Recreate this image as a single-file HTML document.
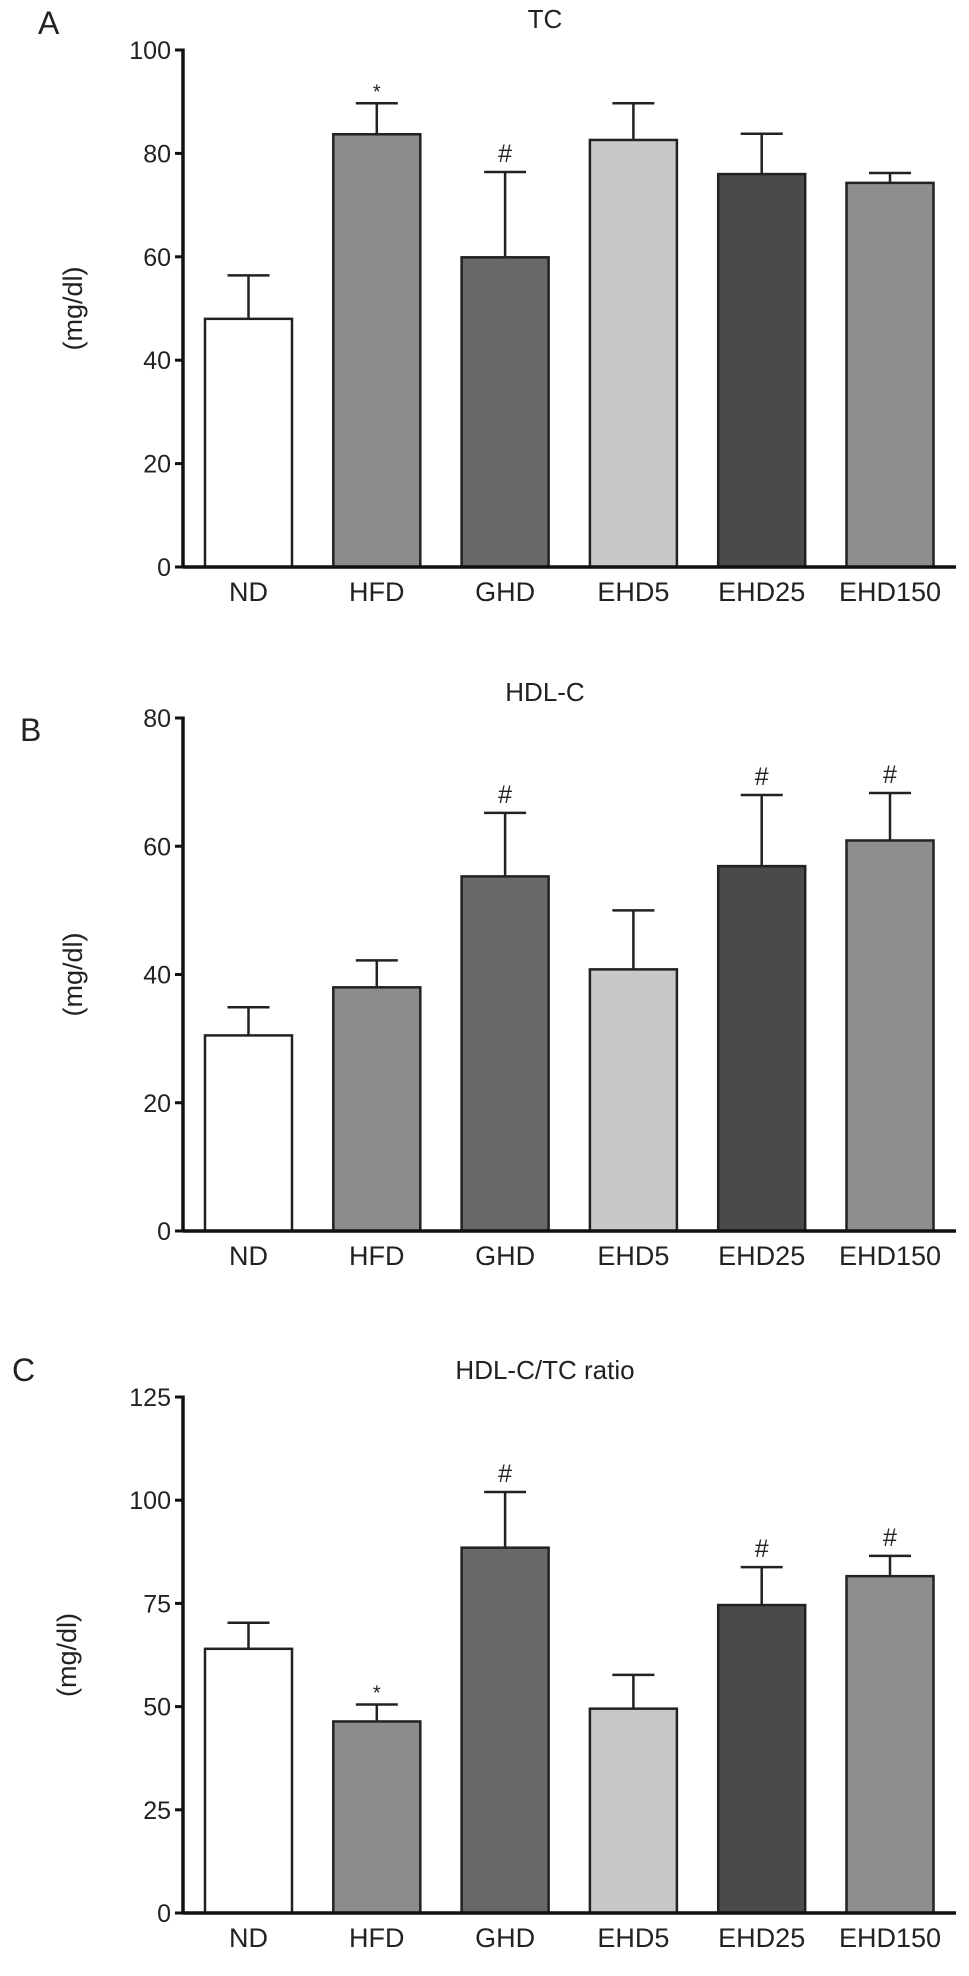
<!DOCTYPE html>
<html><head><meta charset="utf-8"><style>
html,body{margin:0;padding:0;background:#fff;}
svg{display:block;font-family:"Liberation Sans",Arial,sans-serif;}
</style></head><body>
<svg id="fig" width="969" height="1976" viewBox="0 0 969 1976"></svg>
<script>
const categories = ["ND","HFD","GHD","EHD5","EHD25","EHD150"];
const colors = ["#ffffff","#8c8c8c","#686868","#c8c8c8","#4a4a4a","#8e8e8e"];
const tcValues = [48, 83.7, 59.9, 82.6, 76, 74.3];
const tcErrors = [56.4, 89.7, 76.4, 89.7, 83.8, 76.2];
const tcMarks = ["", "*", "#", "", "", ""];
const tcTicks = [0,20,40,60,80,100];
const hdlValues = [30.5, 38, 55.3, 40.8, 56.9, 60.9];
const hdlErrors = [34.9, 42.2, 65.2, 50, 68, 68.3];
const hdlMarks = ["", "", "#", "", "#", "#"];
const hdlTicks = [0,20,40,60,80];
const ratioValues = [64, 46.4, 88.5, 49.5, 74.6, 81.6];
const ratioErrors = [70.3, 50.5, 102, 57.7, 83.8, 86.5];
const ratioMarks = ["", "*", "#", "", "#", "#"];
const ratioTicks = [0,25,50,75,100,125];

const NS = "http://www.w3.org/2000/svg";
const svg = document.getElementById('fig');
function mk(tag, attrs, parent){
  const e = document.createElementNS(NS, tag);
  for (const k in attrs) e.setAttribute(k, attrs[k]);
  (parent||svg).appendChild(e);
  return e;
}
function panel(p){
  const g = mk('g', {});
  
  
  const yScale = v => p.y0 - (v - 0) * (p.y0 - p.yTop) / p.max;
  const xLeft = i => 205 + i * 128.3;
  const bw = 87;
  const L = mk('text', {x: p.lx, y: p.ly, 'font-size': 32, fill: '#222'}, g);
  L.textContent = p.letter;
  
  
  const T = mk('text', {x: 545, y: p.ty, 'font-size': 26, 'text-anchor': 'middle', fill: '#222'}, g);
  T.textContent = p.title;
  
  
  const Y = mk('text', {x: 0, y: 0, 'font-size': 27, 'text-anchor': 'middle', fill: '#222', transform: `translate(${p.yx},${(p.y0 + p.yTop)/2}) rotate(-90)`}, g);
  Y.textContent = '(mg/dl)';
  
  
  p.values.forEach((v, i) => {
    const x = xLeft(i), cx = x + bw/2;
    const ey = yScale(p.errs[i]);
    const el = mk('line', {x1: cx, x2: cx, y1: yScale(v), y2: ey, stroke: '#222', 'stroke-width': 2.5}, g);
    
    
    const cap = mk('line', {x1: cx - 21, x2: cx + 21, y1: ey, y2: ey, stroke: '#222', 'stroke-width': 2.5}, g);
    
    
    const r = mk('rect', {x: x, y: yScale(v), width: bw, height: p.y0 - yScale(v), fill: colors[i], stroke: '#222', 'stroke-width': 2.5}, g);
    
    
    if (p.marks[i]) {
      const m = mk('text', {x: cx, y: ey - (p.marks[i] === '*' ? 5 : 10), 'font-size': p.marks[i] === '*' ? 20 : 25, 'text-anchor': 'middle', fill: '#222'}, g);
      m.textContent = p.marks[i];
      
      
    }
    const lab = mk('text', {x: cx, y: p.y0 + 34, 'font-size': 27, 'text-anchor': 'middle', fill: '#222'}, g);
    lab.textContent = categories[i];
    
    
  });
  const ya = mk('line', {x1: 183, x2: 183, y1: yScale(p.max) - 1.5, y2: p.y0 + 1.5, stroke: '#111', 'stroke-width': 3.5}, g);
  
  
  const xa = mk('line', {x1: 183, x2: 956, y1: p.y0, y2: p.y0, stroke: '#111', 'stroke-width': 3.5}, g);
  
  
  p.ticks.forEach(t => {
    const ty = yScale(t);
    const tk = mk('line', {x1: 175, x2: 183, y1: ty, y2: ty, stroke: '#111', 'stroke-width': 3}, g);
    
    
    const tl = mk('text', {x: 171, y: ty + 9, 'font-size': 25, 'text-anchor': 'end', fill: '#222'}, g);
    tl.textContent = t;
    
    
  });
}
panel({id:'tc', letter:'A', lx:38, ly:34, title:'TC', ty:28, yx:82, y0:567, yTop:50, max:100, values:tcValues, errs:tcErrors, marks:tcMarks, ticks:tcTicks});
panel({id:'hdl', letter:'B', lx:20, ly:741, title:'HDL-C', ty:701, yx:82, y0:1231, yTop:718, max:80, values:hdlValues, errs:hdlErrors, marks:hdlMarks, ticks:hdlTicks});
panel({id:'ratio', letter:'C', lx:12, ly:1381, title:'HDL-C/TC ratio', ty:1379, yx:76, y0:1913, yTop:1397, max:125, values:ratioValues, errs:ratioErrors, marks:ratioMarks, ticks:ratioTicks});
</script>
</body></html>
